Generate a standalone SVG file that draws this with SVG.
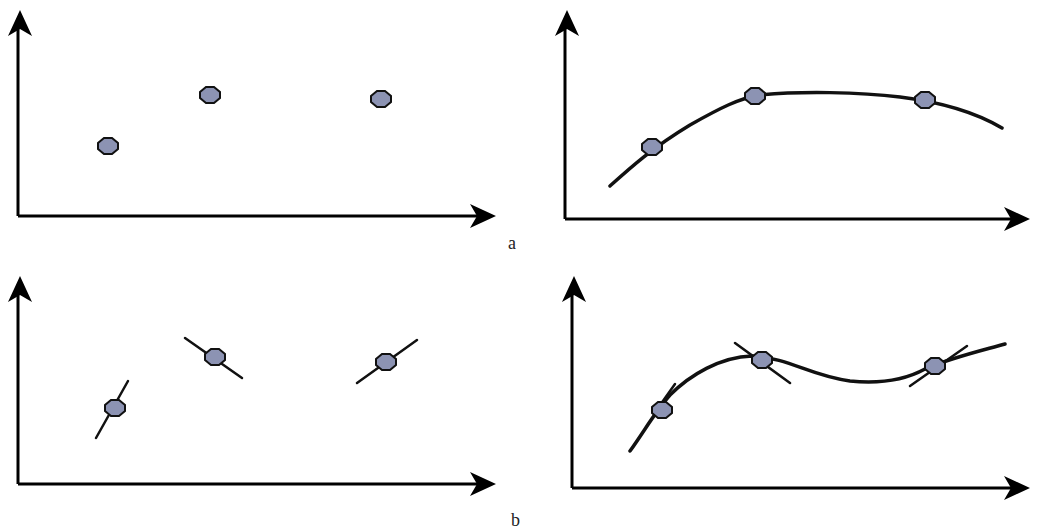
<svg xmlns="http://www.w3.org/2000/svg" width="1042" height="531" viewBox="0 0 1042 531">
<style>
.ax{stroke:#000;stroke-width:3;fill:none}
.cv{stroke:#111;stroke-width:3.5;fill:none;stroke-linecap:round}
.tg{stroke:#111;stroke-width:2.5;fill:none;stroke-linecap:round}
.pt{fill:#8c93b3;stroke:#111;stroke-width:2}
.lb{font-family:"Liberation Serif",serif;font-size:18px;fill:#222}
</style>
<defs>
<polygon id="ah" points="0,0 -26,-12 -19,0 -26,12" fill="#000"/>
<polygon id="oct" points="-4,-8 4,-8 10,-3 10,3 4,8 -4,8 -10,3 -10,-3" class="pt"/>
</defs>
<g id="connectors">
<!-- panel a left -->
<line class="ax" x1="18" y1="216" x2="18" y2="28"/>
<line class="ax" x1="18" y1="216" x2="478" y2="216"/>
<use href="#ah" transform="translate(20,10) rotate(-90)"/>
<use href="#ah" transform="translate(496,216)"/>
<!-- panel a right -->
<line class="ax" x1="565" y1="219" x2="565" y2="28"/>
<line class="ax" x1="565" y1="219" x2="1012" y2="219"/>
<use href="#ah" transform="translate(567,10) rotate(-90)"/>
<use href="#ah" transform="translate(1030,219)"/>
<!-- panel b left -->
<line class="ax" x1="18" y1="484" x2="18" y2="295"/>
<line class="ax" x1="18" y1="484" x2="478" y2="484"/>
<use href="#ah" transform="translate(20,276) rotate(-90)"/>
<use href="#ah" transform="translate(496,484)"/>
<!-- panel b right -->
<line class="ax" x1="572" y1="488" x2="572" y2="295"/>
<line class="ax" x1="572" y1="488" x2="1012" y2="488"/>
<use href="#ah" transform="translate(574,276) rotate(-90)"/>
<use href="#ah" transform="translate(1030,488)"/>
<!-- curves -->
<path class="cv" d="M610,186 C630,168 652,148 690,125 C720,108 740,98 760,95 C800,91 860,92 900,97 C940,102 975,112 1002,128"/>
<path class="cv" d="M630,451 C645,430 655,412 670,395 C690,375 720,357 752,356 C790,358 810,376 850,381 C880,384 905,380 925,369 C950,358 980,351 1005,344"/>
<!-- tangents b-left -->
<line class="tg" x1="96" y1="438" x2="128" y2="381"/>
<line class="tg" x1="185" y1="338" x2="242" y2="378"/>
<line class="tg" x1="357" y1="383" x2="417" y2="340"/>
<!-- tangents b-right -->
<line class="tg" x1="658" y1="408" x2="675" y2="384"/>
<line class="tg" x1="735" y1="343" x2="790" y2="383"/>
<line class="tg" x1="910" y1="386" x2="967" y2="346"/>
</g>
<g id="node-a1"><use href="#oct" x="108" y="146"/></g>
<g id="node-a2"><use href="#oct" x="210" y="95"/></g>
<g id="node-a3"><use href="#oct" x="381" y="99"/></g>
<g id="node-a4"><use href="#oct" x="652" y="147"/></g>
<g id="node-a5"><use href="#oct" x="755" y="96"/></g>
<g id="node-a6"><use href="#oct" x="925" y="100"/></g>
<g id="node-b1"><use href="#oct" x="115" y="408"/></g>
<g id="node-b2"><use href="#oct" x="215" y="357"/></g>
<g id="node-b3"><use href="#oct" x="386" y="362"/></g>
<g id="node-b4"><use href="#oct" x="662" y="410"/></g>
<g id="node-b5"><use href="#oct" x="762" y="360"/></g>
<g id="node-b6"><use href="#oct" x="935" y="366"/></g>
<text class="lb" x="508" y="249">a</text>
<text class="lb" x="511" y="526">b</text>
</svg>
